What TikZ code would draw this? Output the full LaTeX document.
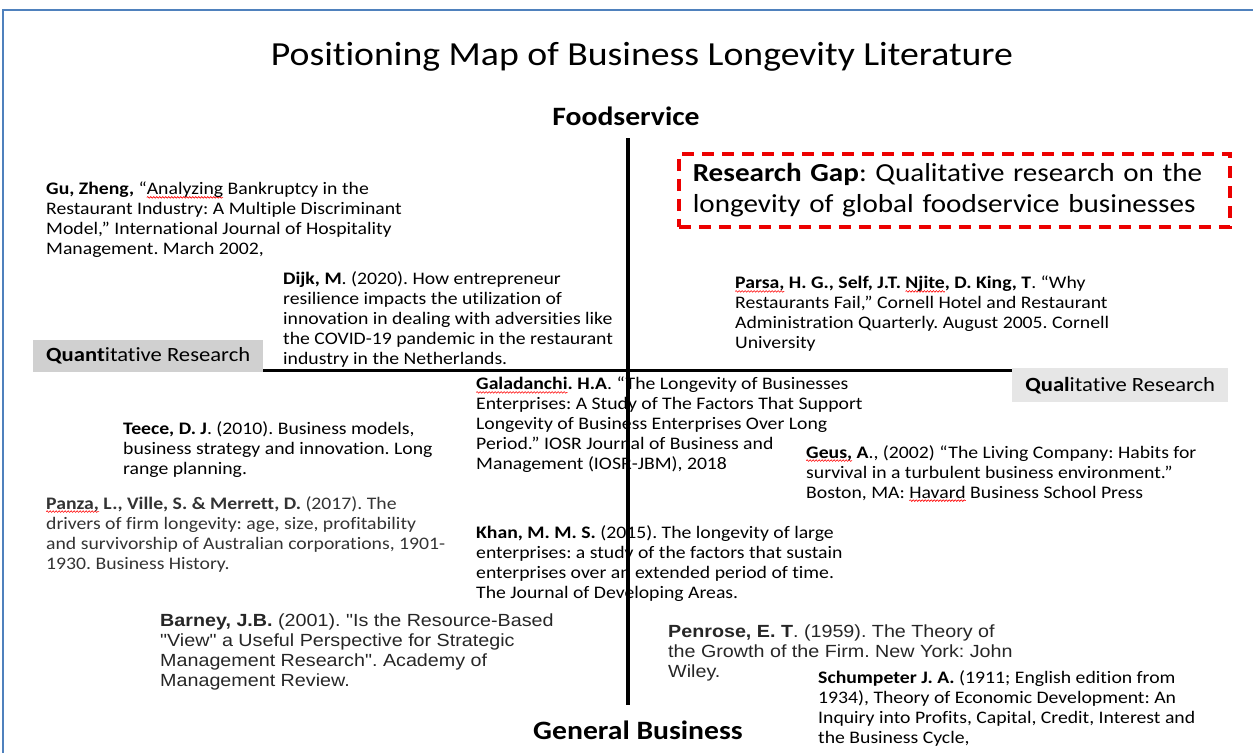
\documentclass[tikz,border=0pt]{standalone}
\usepackage{fontspec}
\setmainfont{Carlito}[FakeStretch=1.12, Ligatures={TeX,NoCommon}]
\newfontfamily\arialfont{Liberation Sans}[FakeStretch=1.12]
\usetikzlibrary{decorations.pathmorphing}
\definecolor{frameblue}{RGB}{79,129,189}
\definecolor{gapred}{RGB}{236,0,0}
\definecolor{quantgray}{RGB}{208,208,208}
\definecolor{qualgray}{RGB}{230,230,230}
\frenchspacing
% red wavy underline
\newlength\spellwd
\newcommand{\spell}[1]{\settowidth\spellwd{#1}\tikz[overlay,baseline=0pt]\draw[red,line width=0.6pt,decorate,decoration={snake,amplitude=0.8pt,segment length=3pt}] (0pt,-2.5pt) -- ++(\spellwd,0pt);#1}

\begin{document}
\begin{tikzpicture}[x=1pt,y=-1pt,
  ref/.style={anchor=north west, inner sep=0pt, align=left, font=\fontsize{17.6}{20}\selectfont},
  refarial/.style={ref, font=\arialfont\fontsize{17.6}{20}\selectfont, text=black!85},
  axislabel/.style={inner sep=0pt, font=\bfseries\fontsize{26.5}{30}\selectfont},
  quadbox/.style={anchor=north west, inner sep=0pt, font=\fontsize{20.2}{24}\selectfont}]
\useasboundingbox (0,0) rectangle (1253,753);

\draw[frameblue, line width=2pt] (3,753) -- (3,10) -- (1253,10);

\path (642,57) node (Title) [inner sep=0pt, font=\fontsize{33.7}{40}\selectfont] {Positioning Map of Business Longevity Literature};
\path (626,116) node (Food) [axislabel] {Foodservice};
\path (638,730) node (General) [axislabel] {General Business};

\path (33,340) node (Quant) [quadbox, fill=quantgray, minimum width=230pt, minimum height=32pt] {\textbf{Quant}itative Research};
\path (1012,368) node (Qual) [quadbox, fill=qualgray, minimum width=216pt, minimum height=34pt] {\textbf{Qual}itative Research};

\path (677,152) node (Gap) [anchor=north west, draw=gapred, line width=3.5pt, dash pattern=on 12pt off 8pt,
  minimum width=551pt, minimum height=73pt, inner xsep=14pt, inner ysep=0pt, text width=523pt, align=left,
  font=\fontsize{26}{31}\selectfont] {\textbf{Research Gap}: Qualitative research on the\\ longevity of global foodservice businesses};

% quadrant references
\path (46,182) node (Gu) [ref] {\textbf{Gu, Zheng,} “\spell{Analyzing} Bankruptcy in the\\ Restaurant Industry: A Multiple Discriminant\\ Model,” International Journal of Hospitality\\ Management. March 2002,};
\path (283,271) node (Dijk) [ref] {\textbf{Dijk, M}. (2020). How entrepreneur\\ resilience impacts the utilization of\\ innovation in dealing with adversities like\\ the COVID-19 pandemic in the restaurant\\ industry in the Netherlands.};
\path (735,276) node (Parsa) [ref] {\textbf{\spell{Parsa,} H. G., Self, J.T. \spell{Njite}, D. King, T}. “Why\\ Restaurants Fail,” Cornell Hotel and Restaurant\\ Administration Quarterly. August 2005. Cornell\\ University};
\path (476,377) node (Galadanchi) [ref] {\textbf{\spell{Galadanchi}. H.A}. “The Longevity of Businesses\\ Enterprises: A Study of The Factors That Support\\ Longevity of Business Enterprises Over Long\\ Period.” IOSR Journal of Business and\\ Management (IOSR-JBM), 2018};
\path (123,421) node (Teece) [ref] {\textbf{Teece, D. J}. (2010). Business models,\\ business strategy and innovation. Long\\ range planning.};
\path (806,445) node (Geus) [ref] {\textbf{\spell{Geus,} A}., (2002) “The Living Company: Habits for\\ survival in a turbulent business environment.”\\ Boston, MA: \spell{Havard} Business School Press};
\path (46,496) node (Panza) [ref, text=black!80] {\textbf{\spell{Panza,} L., Ville, S. \& Merrett, D.} (2017). The\\ drivers of firm longevity: age, size, profitability\\ and survivorship of Australian corporations, 1901-\\ 1930. Business History.};
\path (476,525) node (Khan) [ref] {\textbf{Khan, M. M. S.} (2015). The longevity of large\\ enterprises: a study of the factors that sustain\\ enterprises over an extended period of time.\\ The Journal of Developing Areas.};
\path (160,614) node (Barney) [refarial] {\textbf{Barney, J.B.} (2001). "Is the Resource-Based\\ "View" a Useful Perspective for Strategic\\ Management Research". Academy of\\ Management Review.};
\path (668,625) node (Penrose) [refarial] {\textbf{Penrose, E. T}. (1959). The Theory of\\ the Growth of the Firm. New York: John\\ Wiley.};
\path (818,670) node (Schumpeter) [ref] {\textbf{Schumpeter J. A.} (1911; English edition from\\ 1934), Theory of Economic Development: An\\ Inquiry into Profits, Capital, Credit, Interest and\\ the Business Cycle,};

% axes
\coordinate (Top) at (628,138);
\coordinate (Bottom) at (628,705);
\draw[line width=4pt] (Top) -- (Bottom);
\draw[line width=3.5pt] (Quant.south east) ++(0,-2) coordinate (Left) -- (Left -| Qual.west);

\end{tikzpicture}
\end{document}
